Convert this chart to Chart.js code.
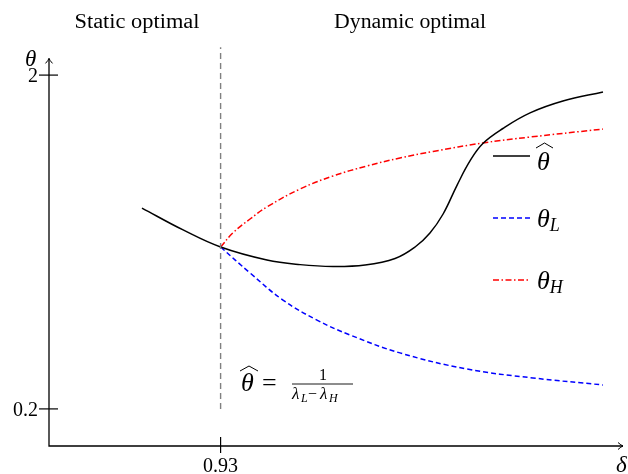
<!DOCTYPE html>
<html>
<head>
<meta charset="utf-8">
<script src="https://cdn.jsdelivr.net/npm/chart.js@4.4.1/dist/chart.umd.min.js"></script>
<style>
  html, body { margin: 0; padding: 0; background: #fff; }
  #wrap { width: 628px; height: 474px; }
</style>
</head>
<body>
<div id="wrap"><canvas id="chart"></canvas></div>
<script>
// theta hat (black, solid)
const hatX = [0.9025, 0.9169, 0.93, 0.9462, 0.9578, 0.9693, 0.9805, 0.9910, 0.9980, 1.0032, 1.0078, 1.0127, 1.0172, 1.0217, 1.0287, 1.0382, 1.0497, 1.0637]
const hatY = [1.283, 1.165, 1.073, 1.003, 0.978, 0.968, 0.976, 1.011, 1.073, 1.149, 1.251, 1.407, 1.537, 1.631, 1.712, 1.796, 1.860, 1.909]
// theta_H (red, dash-dot)
const highX = [0.93, 0.9343, 0.9403, 0.9462, 0.9578, 0.9693, 0.9812, 0.9927, 1.0043, 1.0217, 1.0382, 1.0637]
const highY = [1.073, 1.149, 1.224, 1.289, 1.386, 1.456, 1.510, 1.553, 1.588, 1.634, 1.666, 1.709]
// theta_L (blue, dashed)
const lowX = [0.93, 0.9403, 0.9518, 0.9637, 0.9752, 0.9927, 1.0162, 1.0392, 1.0637]
const lowY = [1.073, 0.933, 0.787, 0.679, 0.599, 0.502, 0.415, 0.367, 0.329]
// threshold line
const cutX = [0.93, 0.93]
const cutY = [0.2, 2.15]

const xTicks = [0.93]
const xTickLabels = ['0.93']
const yTicks = [0.2, 2]
const yTickLabels = ['0.2', '2']
const regionLabels = ['Static optimal', 'Dynamic optimal']

const xMin = 0.87, xMax = 1.0707
const yMin = 0, yMax = 2.2, yAxisTop = 2.09

const serif = '"Liberation Serif", "DejaVu Serif", serif'

const pts = (xs, ys) => xs.map((x, i) => ({ x, y: ys[i] }))

function fitText(ctx, text, cx, base, size, width) {
  ctx.font = `${size}px ${serif}`
  const w = ctx.measureText(text).width
  ctx.save()
  ctx.translate(cx - width / 2, base)
  ctx.scale(width / w, 1)
  ctx.fillText(text, 0, 0)
  ctx.restore()
}

function widehat(ctx, x0, x1, top) {
  ctx.save()
  ctx.lineWidth = 1
  ctx.beginPath()
  ctx.moveTo(x0, top + 5)
  ctx.lineTo((x0 + x1) / 2, top)
  ctx.lineTo(x1, top + 5)
  ctx.stroke()
  ctx.restore()
}

function arrow(ctx, x, y, dir) {
  ctx.save()
  ctx.translate(x, y)
  if (dir === 'right') ctx.rotate(Math.PI / 2)
  ctx.lineWidth = 1
  ctx.beginPath()
  ctx.moveTo(-3.5, 5)
  ctx.quadraticCurveTo(-0.6, 1.8, 0, 0)
  ctx.quadraticCurveTo(0.6, 1.8, 3.5, 5)
  ctx.stroke()
  ctx.restore()
}

function thetaSub(ctx, x, base, sub, size) {
  ctx.font = `italic ${size}px ${serif}`
  ctx.fillText('θ', x, base)
  const w = ctx.measureText('θ').width
  ctx.font = `italic ${Math.round(size * 0.7)}px ${serif}`
  ctx.fillText(sub, x + w, base + 4)
}

const decor = {
  id: 'decor',
  beforeDatasetsDraw(chart) {
    const { ctx, scales: { x, y } } = chart
    const x0 = x.getPixelForValue(xMin)
    const y0 = y.getPixelForValue(yMin)
    const xe = x.getPixelForValue(xMax)
    const ye = y.getPixelForValue(yAxisTop)
    ctx.save()
    ctx.strokeStyle = '#000'
    ctx.lineWidth = 1.3
    ctx.beginPath()
    ctx.moveTo(x0, ye)
    ctx.lineTo(x0, y0)
    ctx.lineTo(xe, y0)
    ctx.stroke()
    arrow(ctx, x0, ye, 'up')
    arrow(ctx, xe, y0, 'right')
    ctx.lineWidth = 1.2
    yTicks.forEach((v) => {
      const py = y.getPixelForValue(v)
      ctx.beginPath(); ctx.moveTo(x0 - 10, py); ctx.lineTo(x0 + 9, py); ctx.stroke()
    })
    xTicks.forEach((v) => {
      const px = x.getPixelForValue(v)
      ctx.beginPath(); ctx.moveTo(px, y0 - 9); ctx.lineTo(px, y0 + 7); ctx.stroke()
    })
    ctx.restore()
  },
  afterDraw(chart) {
    const { ctx, scales: { x, y } } = chart
    const x0 = x.getPixelForValue(xMin)
    const y0 = y.getPixelForValue(yMin)
    ctx.save()
    ctx.fillStyle = '#000'
    ctx.strokeStyle = '#000'
    ctx.textBaseline = 'alphabetic'

    // region labels
    fitText(ctx, regionLabels[0], 137, 28, 20, 125)
    fitText(ctx, regionLabels[1], 410, 28, 20, 152)

    // tick labels
    ctx.font = `20px ${serif}`
    ctx.textAlign = 'right'
    yTicks.forEach((v, i) => {
      ctx.fillText(yTickLabels[i], x0 - 11, y.getPixelForValue(v) + 7)
    })
    ctx.textAlign = 'center'
    xTicks.forEach((v, i) => {
      ctx.fillText(xTickLabels[i], x.getPixelForValue(v), y0 + 26)
    })

    // axis names
    ctx.textAlign = 'left'
    ctx.font = `italic 23px ${serif}`
    ctx.fillText('θ', 25, 66)
    ctx.fillText('δ', 616, 472)

    // legend
    const items = chart.data.datasets.filter((d) => d.legendKey)
    const rows = [156, 218, 280]
    items.forEach((d, i) => {
      const ly = rows[i]
      ctx.save()
      ctx.strokeStyle = d.borderColor
      ctx.lineWidth = d.borderWidth
      ctx.setLineDash(d.borderDash || [])
      ctx.beginPath(); ctx.moveTo(493, ly); ctx.lineTo(530, ly); ctx.stroke()
      ctx.restore()
      if (d.legendKey === 'hat') {
        ctx.font = `italic 26px ${serif}`
        ctx.fillText('θ', 537, 170)
        widehat(ctx, 536, 553, 143)
      } else {
        thetaSub(ctx, 537, ly + 9, d.legendKey, 26)
      }
    })

    // formula
    ctx.font = `italic 26px ${serif}`
    ctx.fillText('θ', 241, 391)
    widehat(ctx, 240, 258, 366)
    ctx.font = `26px ${serif}`
    ctx.fillText('=', 262, 391)
    ctx.font = `16px ${serif}`
    ctx.textAlign = 'center'
    ctx.fillText('1', 323, 380)
    ctx.lineWidth = 0.9
    ctx.beginPath(); ctx.moveTo(292, 384); ctx.lineTo(353, 384); ctx.stroke()
    ctx.textAlign = 'left'
    ctx.font = `italic 17px ${serif}`
    ctx.fillText('λ', 292, 399)
    ctx.font = `italic 12px ${serif}`
    ctx.fillText('L', 301, 402)
    ctx.font = `16px ${serif}`
    ctx.fillText('−', 308, 399)
    ctx.font = `italic 17px ${serif}`
    ctx.fillText('λ', 320, 399)
    ctx.font = `italic 12px ${serif}`
    ctx.fillText('H', 329, 402)
    ctx.restore()
  },
}

new Chart(document.getElementById('chart').getContext('2d'), {
  type: 'line',
  data: {
    datasets: [
      {
        data: pts(cutX, cutY),
        borderColor: '#808080',
        borderWidth: 1.4,
        borderDash: [6, 4],
        tension: 0,
      },
      {
        legendKey: 'hat',
        data: pts(hatX, hatY),
        borderColor: '#000',
        borderWidth: 1.5,
        tension: 0.4,
      },
      {
        legendKey: 'L',
        data: pts(lowX, lowY),
        borderColor: '#0000ff',
        borderWidth: 1.5,
        borderDash: [5, 3],
        tension: 0.4,
      },
      {
        legendKey: 'H',
        data: pts(highX, highY),
        borderColor: '#ff0000',
        borderWidth: 1.5,
        borderDash: [6, 2.5, 1.5, 2.5],
        tension: 0.4,
      },
    ],
  },
  options: {
    responsive: true,
    maintainAspectRatio: false,
    animation: false,
    layout: { padding: { left: 49, right: 5, top: 38, bottom: 28 } },
    elements: { point: { radius: 0 } },
    scales: {
      x: { type: 'linear', min: xMin, max: xMax, display: false },
      y: { min: yMin, max: yMax, display: false },
    },
    plugins: {
      legend: { display: false },
      tooltip: { enabled: false },
    },
    events: [],
  },
  plugins: [decor],
})
</script>
</body>
</html>
